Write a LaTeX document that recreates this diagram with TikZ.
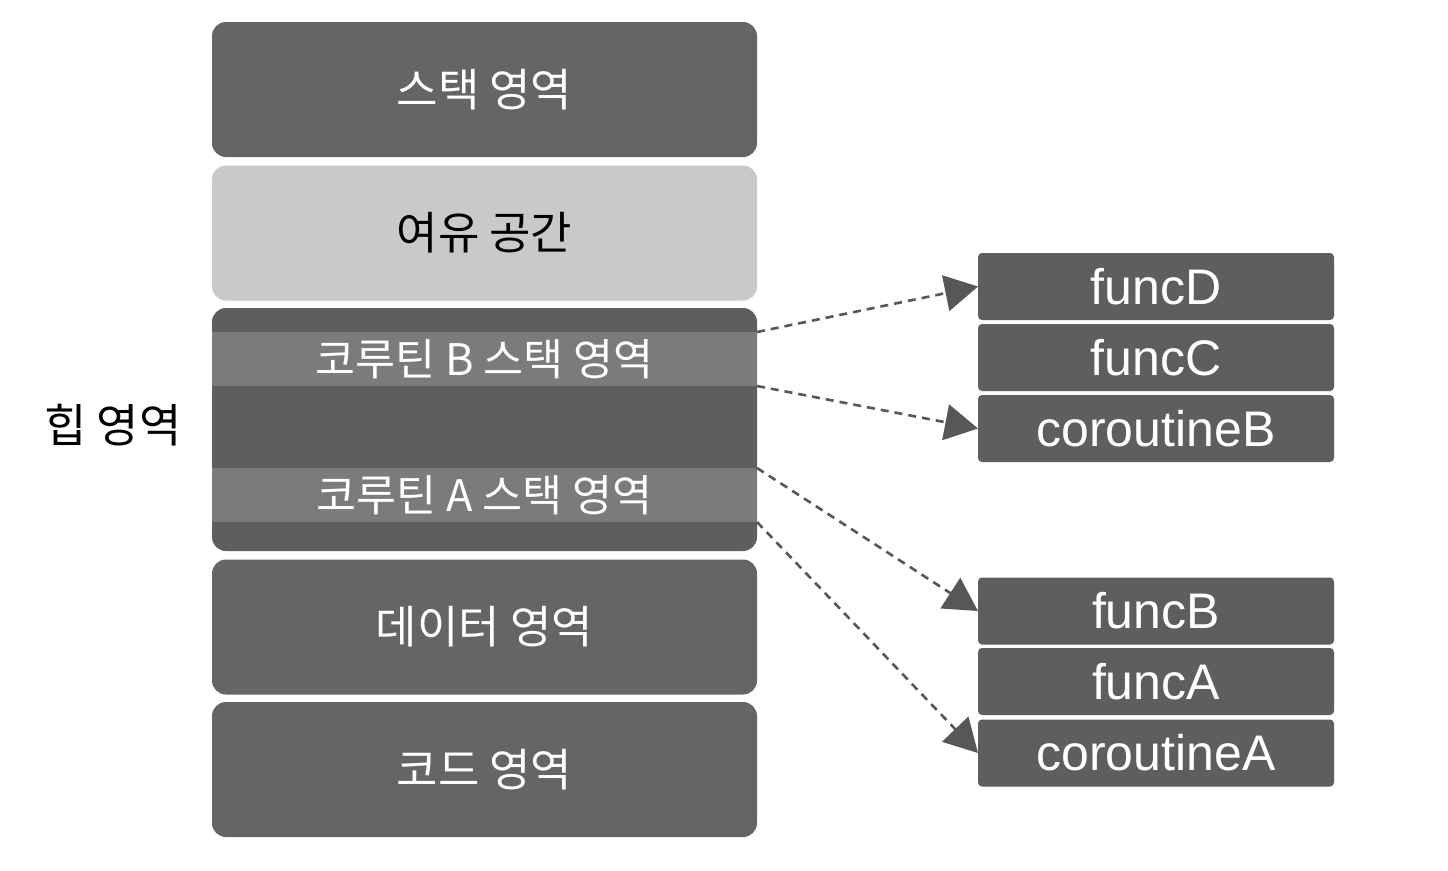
\documentclass[tikz,border=0pt]{standalone}
\usepackage{fontspec}
\setmainfont{Noto Sans CJK KR}
\newfontfamily\latinfont{Liberation Sans}
\usetikzlibrary{arrows.meta}
\definecolor{areagray}{HTML}{656565}
\definecolor{heapgray}{HTML}{5E5E5E}
\definecolor{bandgray}{HTML}{7B7B7B}
\definecolor{sparegray}{HTML}{C9C9C9}
\definecolor{linkgray}{HTML}{575757}
\tikzset{
  areabox/.style={fill=areagray,rounded corners=14pt,minimum width=545pt,minimum height=135pt,inner sep=0pt,outer sep=0pt,text=white,font=\fontsize{45}{50}\selectfont},
  sparebox/.style={areabox,fill=sparegray,text=black},
  bandbox/.style={fill=bandgray,minimum width=545pt,minimum height=54pt,inner sep=0pt,outer sep=0pt,text=white,font=\fontsize{43.5}{48}\selectfont},
  funcbox/.style={fill=heapgray,rounded corners=4pt,minimum width=356pt,minimum height=67pt,inner sep=0pt,outer sep=0pt,text=white,font=\latinfont\fontsize{50}{54}\selectfont},
  link/.style={draw=linkgray,line width=2.6pt,dash pattern=on 8pt off 6pt,-{Triangle[length=33pt,width=36pt,fill=linkgray]}}
}
\begin{document}
\begin{tikzpicture}[x=1pt,y=-1pt]
\useasboundingbox[fill=white] (0,0) rectangle (1448,870);
% memory areas
\node[areabox] (stack) at (484.5,89.5) {스택 영역};
\node[sparebox] (spare) at (484.5,233) {여유 공간};
\node[areabox,fill=heapgray,minimum height=243pt] (heap) at (484.5,429.5) {};
\node[bandbox] (bandB) at (484.5,359) {코루틴 B 스택 영역};
\node[bandbox] (bandA) at (484.5,495) {코루틴 A 스택 영역};
\node[areabox] (data) at (484.5,627) {데이터 영역};
\node[areabox] (code) at (484.5,769.5) {코드 영역};
\node[font=\fontsize{46}{50}\selectfont] (heaplabel) at (113,425) {힙 영역};
% coroutine stacks
\node[funcbox] (fD) at (1156,286.5) {funcD};
\node[funcbox] (fC) at (1156,357.5) {funcC};
\node[funcbox] (coB) at (1156,428.5) {coroutineB};
\node[funcbox] (fB) at (1156,611) {funcB};
\node[funcbox] (fA) at (1156,681.5) {funcA};
\node[funcbox] (coA) at (1156,753) {coroutineA};
\draw[link] (bandB.north east) -- (fD.west);
\draw[link] (bandB.south east) -- (coB.west);
\draw[link] (bandA.north east) -- (fB.west);
\draw[link] (bandA.south east) -- (coA.west);
\end{tikzpicture}
\end{document}
